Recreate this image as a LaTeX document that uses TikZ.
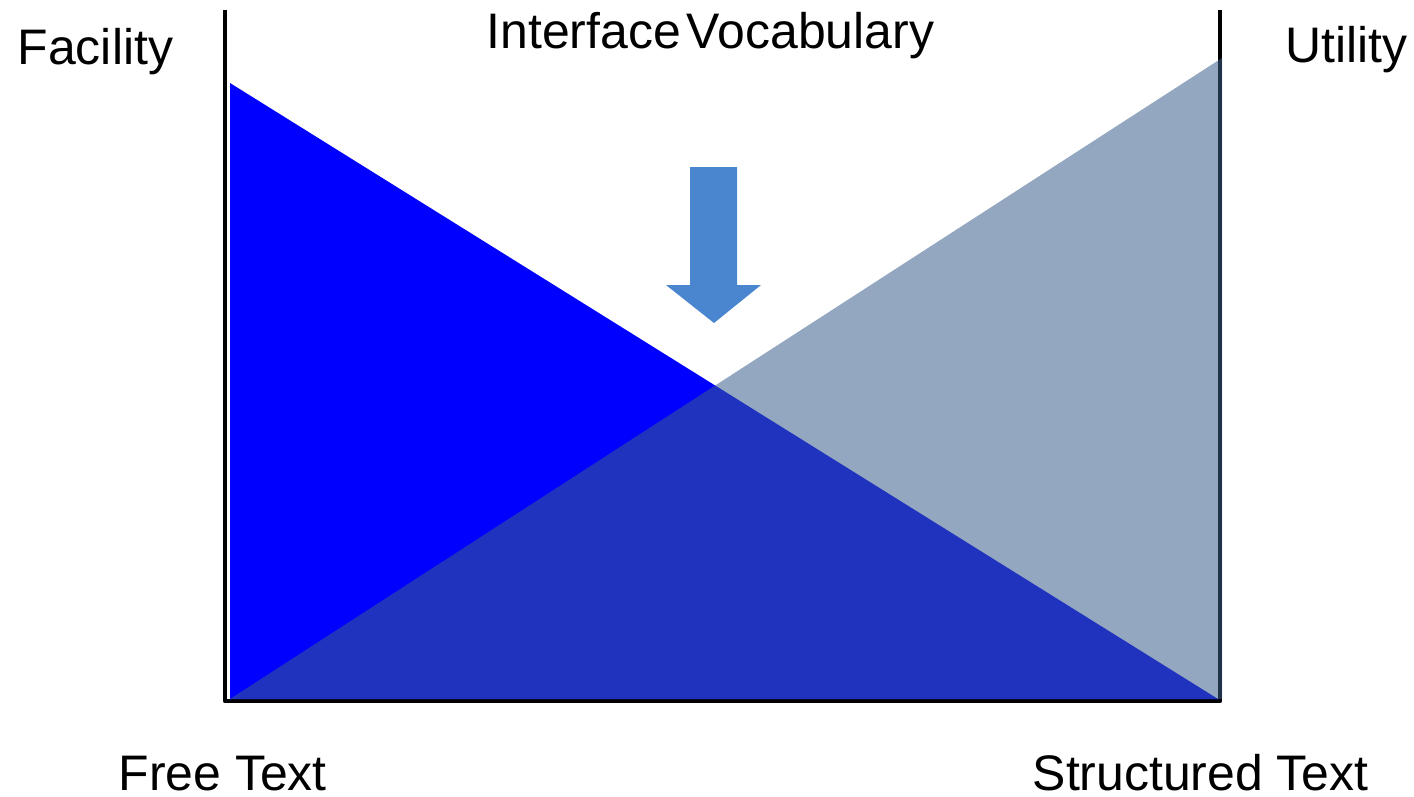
\documentclass[tikz,border=0pt]{standalone}
\usepackage{fontspec}
\setmainfont{Liberation Sans}
\usetikzlibrary{positioning}

\definecolor{freeblue}{RGB}{0,0,255}
\definecolor{utilgray}{RGB}{59,94,139}
\definecolor{arrowblue}{RGB}{74,134,207}

\begin{document}
\begin{tikzpicture}[
  x=0.01cm, y=-0.01cm,
  axisline/.style={draw=black, line width=1.2pt, line join=round},
  caption/.style={font=\fontsize{14.2}{17}\selectfont, inner sep=0pt, anchor=base west},
  facilityarea/.style={fill=freeblue},
  utilityarea/.style={fill=utilgray, fill opacity=0.545},
  pointer/.style={fill=arrowblue}
]
\useasboundingbox (0,0) rectangle (1414,796);

% Corners of the chart
\coordinate (topleft)  at (225,10);
\coordinate (origin)   at (225,701);
\coordinate (botright) at (1220,701);
\coordinate (topright) at (1220,10);

% Axes
\draw[axisline] (topleft) -- (origin) -- (botright) -- (topright);

% Facility falls, utility rises
\fill[facilityarea] (230,83) -- (230,699) -- (1218,699) -- cycle;
\fill[utilityarea] (1222,58) -- (1222,699) -- (230,699) -- cycle;

% Arrow down to the crossing
\fill[pointer] (690,167) -- (737,167) -- (737,285) -- (761,285)
  -- (714,323) -- (666,285) -- (690,285) -- cycle;

% Labels
\node[caption] (facility)  at (17,64)   {Facility};
\node[caption] (interface) at (486,48)  {Interface\hspace{0.12em}Vocabulary};
\node[caption] (utility)   at (1285,62) {Utility};
\node[caption] (freetext)  at (118,790) {Free Text};
\node[caption] (structured) at (1032,790) {Structured Text};
\end{tikzpicture}
\end{document}
